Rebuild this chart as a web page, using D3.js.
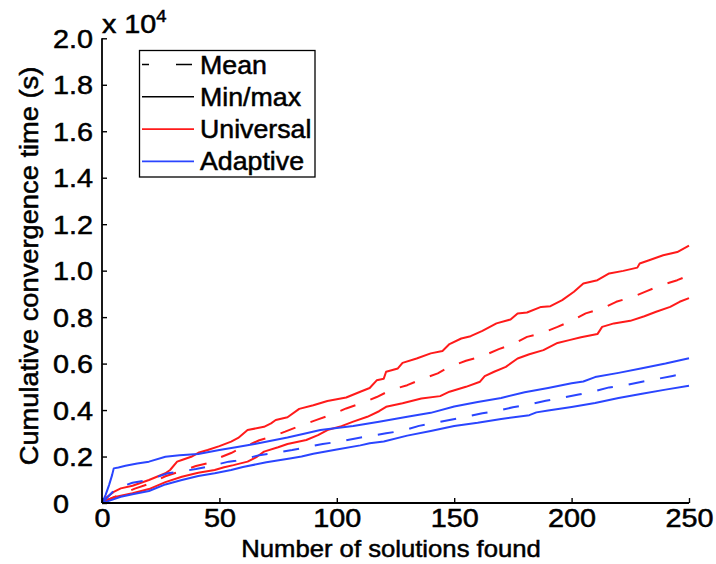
<!DOCTYPE html>
<html>
<head>
<meta charset="utf-8">
<script src="https://cdn.jsdelivr.net/npm/d3@7"></script>
<style>
  body { margin: 0; background: #fff; }
  text { font-family: "Liberation Sans", Arial, sans-serif; fill: #000; stroke: #000; stroke-width: 0.5px; }
</style>
</head>
<body>
<div id="chart"></div>
<script>
// values: [solutions found, cumulative time (s)]
var universalMax = [[0,0],[2,250],[5,480],[8,630],[13,745],[20,990],[27,1280],[29,1420],[32,1780],[34,1850],[38,1990],[41,2160],[45,2280],[50,2450],[55,2640],[58,2800],[62,3140],[69,3280],[72,3430],[74,3570],[79,3690],[84,4050],[90,4210],[96,4390],[104,4540],[110,4790],[114,4950],[117,5280],[120,5350],[121,5650],[126,5790],[128,6030],[134,6220],[140,6440],[145,6540],[148,6840],[153,7080],[157,7180],[162,7410],[168,7730],[174,7900],[177,8160],[181,8200],[187,8440],[191,8470],[196,8730],[201,9090],[205,9450],[211,9590],[216,9880],[222,9990],[228,10130],[229,10310],[233,10450],[239,10660],[245,10800],[250,11080]];
var universalMean = [[0,0],[5,250],[10,450],[14,620],[20,820],[27,1150],[33,1350],[40,1590],[45,1710],[50,1950],[55,2150],[59,2350],[67,2700],[72,2850],[78,3070],[84,3310],[92,3600],[97,3780],[104,4070],[111,4310],[117,4560],[123,4860],[130,5070],[136,5320],[143,5580],[148,5860],[155,6120],[162,6320],[169,6620],[175,6840],[181,7150],[187,7300],[194,7580],[200,7840],[206,8160],[213,8370],[219,8660],[226,8870],[232,9120],[238,9370],[245,9590],[250,9800]];
var universalMin = [[0,0],[2,130],[6,270],[13,420],[20,600],[27,900],[34,1130],[41,1300],[48,1420],[52,1540],[56,1630],[62,1780],[66,1990],[69,2210],[75,2400],[79,2540],[87,2710],[92,2920],[96,3140],[102,3310],[107,3500],[113,3710],[118,3950],[121,4140],[128,4290],[136,4500],[144,4600],[148,4790],[155,5000],[161,5220],[163,5460],[167,5650],[172,5860],[177,6220],[182,6400],[188,6580],[194,6890],[199,7010],[204,7130],[211,7270],[213,7580],[218,7730],[225,7840],[231,8040],[236,8230],[242,8440],[246,8660],[250,8820]];

var adaptiveMax = [[0,0],[1.5,340],[3,770],[4.3,1200],[5,1490],[7,1530],[10,1600],[15,1700],[20,1780],[27,1990],[33,2050],[41,2110],[50,2280],[57,2400],[65,2540],[79,2820],[87,3000],[93,3140],[107,3310],[118,3500],[130,3710],[140,3880],[150,4150],[160,4350],[170,4520],[180,4770],[190,4950],[200,5150],[205,5230],[210,5420],[220,5600],[230,5800],[240,6000],[250,6230]];
var adaptiveMean = [[0,0],[6,630],[13,870],[20,1000],[28,1280],[33,1350],[40,1460],[45,1560],[54,1780],[57,1820],[60,1870],[67,2060],[74,2160],[81,2280],[87,2400],[94,2540],[101,2640],[108,2780],[114,2880],[121,3000],[128,3110],[135,3320],[141,3430],[148,3570],[155,3710],[162,3860],[168,3960],[175,4120],[182,4240],[189,4400],[196,4530],[203,4670],[209,4790],[216,4975],[223,5070],[230,5220],[236,5330],[243,5470],[250,5600]];
var adaptiveMin = [[0,0],[2,60],[8,270],[13,375],[20,515],[27,800],[34,990],[41,1160],[48,1280],[55,1420],[60,1550],[70,1750],[80,1920],[85,2000],[90,2120],[100,2300],[110,2480],[114,2570],[120,2650],[130,2900],[140,3100],[150,3310],[160,3450],[170,3620],[182,3780],[185,3900],[190,3980],[200,4130],[210,4300],[216,4430],[220,4520],[230,4700],[240,4880],[250,5050]];

var xTicks = [0, 50, 100, 150, 200, 250];
var yTicks = [0, 2000, 4000, 6000, 8000, 10000, 12000, 14000, 16000, 18000, 20000];
var legendNames = ["Mean", "Min/max", "Universal", "Adaptive"];

var RED = "#ff1a1a", BLUE = "#2a45ff";

var width = 716, height = 564;
var svg = d3.select("#chart").append("svg")
	.attr("width", width)
	.attr("height", height);

var x = d3.scaleLinear().domain([0, 250]).range([102, 689]);
var y = d3.scaleLinear().domain([0, 20000]).range([503, 38.3]);

var line = d3.line()
	.x(function(d) { return x(d[0]); })
	.y(function(d) { return y(d[1]); });

// series
var series = [
	{ data: universalMax, color: RED, dash: null },
	{ data: universalMin, color: RED, dash: null },
	{ data: universalMean, color: RED, dash: "16,16" },
	{ data: adaptiveMax, color: BLUE, dash: null },
	{ data: adaptiveMin, color: BLUE, dash: null },
	{ data: adaptiveMean, color: BLUE, dash: "16,16" }
];

svg.append("g").selectAll("path")
	.data(series)
	.enter()
	.append("path")
	.attr("d", function(d) { return line(d.data); })
	.attr("fill", "none")
	.attr("stroke", function(d) { return d.color; })
	.attr("stroke-width", 2)
	.attr("stroke-linejoin", "round")
	.attr("stroke-dasharray", function(d) { return d.dash; });

// axes (left and bottom only, ticks inside)
var xAxis = d3.axisBottom(x).tickValues(xTicks).tickSize(-5)
	.tickFormat(d3.format("d"));
var gx = svg.append("g").attr("transform", "translate(0," + y(0) + ")").call(xAxis);
gx.select(".domain").attr("d", "M" + x(0) + ",0H" + x(250));

var yAxis = d3.axisLeft(y).tickValues(yTicks).tickSize(-5)
	.tickFormat(function(d) { return d === 0 ? "0" : (d / 10000).toFixed(1); });
var gy = svg.append("g").attr("transform", "translate(" + x(0) + ",0)").call(yAxis);
gy.select(".domain").attr("d", "M0," + y(20000) + "V" + y(0));

svg.selectAll(".domain").attr("stroke", "#000").attr("stroke-width", 1.8);
svg.selectAll(".tick line").attr("stroke", "#000").attr("stroke-width", 1.4);
svg.selectAll(".tick text").style("font-size", "25.5px").attr("fill", "#000")
	.style("font-family", "'Liberation Sans', Arial, sans-serif");

// matlab-like labels: wide glyphs, y labels left aligned
gx.selectAll(".tick text")
	.attr("y", 0).attr("dy", 0)
	.attr("transform", "translate(0,24) scale(1.13,1)");
gy.selectAll(".tick text")
	.attr("x", 0).attr("dy", "0.36em")
	.attr("text-anchor", "start")
	.attr("transform", "translate(" + (53 - x(0)) + ",0) scale(1.13,1)");

// exponent label
var expo = svg.append("text")
	.attr("transform", "translate(102,33) scale(1.15,1)")
	.style("font-size", "25px");
expo.append("tspan").text("x 10");
expo.append("tspan").attr("dy", -11).style("font-size", "16px").text("4");

// axis titles
svg.append("text")
	.attr("transform", "translate(391,557) scale(1.07,1)")
	.attr("text-anchor", "middle")
	.style("font-size", "24px")
	.text("Number of solutions found");

svg.append("text")
	.attr("transform", "translate(38,266) rotate(-90) scale(1.07,1)")
	.attr("text-anchor", "middle")
	.style("font-size", "25.5px")
	.text("Cumulative convergence time (s)");

// legend
var legend = svg.append("g");
legend.append("rect")
	.attr("x", 139.5).attr("y", 50.5)
	.attr("width", 175.5).attr("height", 126.5)
	.attr("fill", "#fff").attr("stroke", "#000").attr("stroke-width", 1.3);

var legendColors = ["#000", "#000", RED, BLUE];
var legendDash = ["7,27,16,10", null, null, null];
var rows = legend.selectAll(".row")
	.data(legendNames)
	.enter()
	.append("g")
	.attr("class", "row")
	.attr("transform", function(d, i) { return "translate(0," + (64.5 + i * 32.3) + ")"; });

rows.append("line")
	.attr("x1", 142).attr("x2", 194)
	.attr("y1", 0).attr("y2", 0)
	.attr("stroke", function(d, i) { return legendColors[i]; })
	.attr("stroke-width", 1.6)
	.attr("stroke-dasharray", function(d, i) { return legendDash[i]; });

rows.append("text")
	.attr("transform", "translate(200,0) scale(1.07,1)")
	.attr("dy", "0.36em")
	.style("font-size", "25px")
	.text(function(d) { return d; });
</script>
</body>
</html>
